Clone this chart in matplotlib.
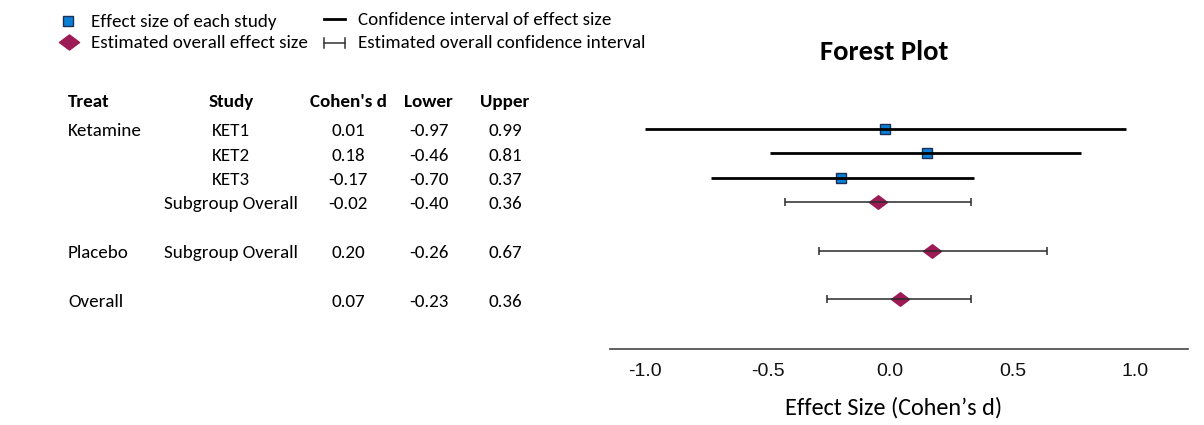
import matplotlib
matplotlib.use("Agg")
import matplotlib.pyplot as plt
from matplotlib import font_manager
from matplotlib.lines import Line2D
from matplotlib.path import Path
import matplotlib.transforms as mtransforms

# ---------------- data ----------------
treat = ["Ketamine", "", "", "", "Placebo", "Overall"]
study = ["KET1", "KET2", "KET3", "Subgroup Overall", "Subgroup Overall", ""]
cohens_d = [0.01, 0.18, -0.17, -0.02, 0.20, 0.07]
lower = [-0.97, -0.46, -0.70, -0.40, -0.26, -0.23]
upper = [0.99, 0.81, 0.37, 0.36, 0.67, 0.36]
is_summary = [False, False, False, True, True, True]
col_headers = ["Treat", "Study", "Cohen's d", "Lower", "Upper"]
x_ticks = [-1.0, -0.5, 0.0, 0.5, 1.0]
x_ticklabels = ["-1.0", "-0.5", "0.0", "0.5", "1.0"]
legend_labels = ["Effect size of each study", "Estimated overall effect size",
                 "Confidence interval of effect size", "Estimated overall confidence interval"]

# ---------------- layout / style ----------------
W, H = 1204, 425
names = {f.name for f in font_manager.fontManager.ttflist}
body = "Carlito" if "Carlito" in names else "Lato"
body_size = 13.7 if body == "Carlito" else 12.6
tick_font = "Liberation Sans" if "Liberation Sans" in names else "DejaVu Sans"

row_pos = [0, 1, 2, 3, 5, 7]
blue = "#0a7fd6"
blue_edge = "#1b2f57"
maroon = "#9c1a55"
diamond = Path([(-1, 0), (0, 0.75), (1, 0), (0, -0.75), (-1, 0)],
               [Path.MOVETO, Path.LINETO, Path.LINETO, Path.LINETO, Path.CLOSEPOLY])

fig = plt.figure(figsize=(W / 100, H / 100), dpi=100)
ax = fig.add_axes([610 / W, 76 / H, 578 / W, 249 / H])
ax.set_xlim(-1.114, 1.245)
ax.set_ylim(9.05, -1.19)

for y, d, lo, hi, summ in zip(row_pos, cohens_d, lower, upper, is_summary):
    if summ:
        ax.plot([d], [y], marker=diamond, markersize=13, color=maroon,
                markeredgecolor=maroon, linestyle="none", zorder=2)
        ax.errorbar([d], [y], xerr=[[d - lo], [hi - d]], fmt="none",
                    ecolor="#2a2a2a", elinewidth=1.1, capsize=3.0, capthick=1.1, zorder=3)
    else:
        ax.plot([d], [y], marker="s", markersize=7.6, color=blue,
                markeredgecolor=blue_edge, markeredgewidth=1.0, linestyle="none", zorder=2)
        ax.plot([lo, hi], [y, y], color="black", linewidth=2.0, zorder=3,
                solid_capstyle="butt")

for s in ["top", "right", "left"]:
    ax.spines[s].set_visible(False)
ax.spines["bottom"].set_color("#444444")
ax.spines["bottom"].set_linewidth(1.2)
ax.set_yticks([])
ax.set_xticks(x_ticks)
ax.set_xticklabels(x_ticklabels, fontsize=14, family=tick_font, color="#111111")
ax.tick_params(axis="x", length=0, pad=10)
offset = mtransforms.ScaledTranslation(7 / 100, 0, fig.dpi_scale_trans)
for lab in ax.get_xticklabels():
    lab.set_transform(lab.get_transform() + offset)

ax.set_title("Forest Plot", x=(884.5 - 610) / 578, y=1.0, pad=29,
             fontsize=body_size * 1.5, family=body, fontweight="bold")
fig.text(894 / W, 1 - 408 / H, "Effect Size (Cohen\u2019s d)", ha="center", va="center",
         fontsize=body_size * 1.27, family=body)

# ---------------- table ----------------
bt = mtransforms.blended_transform_factory(fig.transFigure, ax.transData)
col_x = [68 / W, 231 / W, 348 / W, 428.5 / W, 505 / W]
col_ha = ["left", "center", "center", "center", "center"]
header_y = -1.12
for x, ha, txt in zip(col_x, col_ha, col_headers):
    ax.text(x, header_y, txt, transform=bt, ha=ha, va="center", fontsize=body_size,
            family=body, fontweight="bold", clip_on=False)
text_off = 0.1
for y, t, s, d, lo, hi in zip(row_pos, treat, study, cohens_d, lower, upper):
    vals = [t, s, f"{d:.2f}", f"{lo:.2f}", f"{hi:.2f}"]
    for x, ha, txt in zip(col_x, col_ha, vals):
        if txt:
            ax.text(x, y + text_off, txt, transform=bt, ha=ha, va="center",
                    fontsize=body_size, family=body, clip_on=False)

# ---------------- legend ----------------
def fx(px):
    return px / W

def fy(py):
    return 1 - py / H

fig.add_artist(Line2D([fx(68)], [fy(21)], marker="s", markersize=7.0, color=blue,
                      markeredgecolor=blue_edge, markeredgewidth=1.0, linestyle="none"))
fig.add_artist(Line2D([fx(69)], [fy(42)], marker=diamond, markersize=14.5, color=maroon,
                      markeredgecolor=maroon, linestyle="none"))
fig.add_artist(Line2D([fx(324), fx(345)], [fy(19), fy(19)], color="black", linewidth=2.0))
fig.add_artist(Line2D([fx(324), fx(345)], [fy(43), fy(43)], color="#333333", linewidth=1.1))
fig.add_artist(Line2D([fx(324), fx(324)], [fy(38), fy(48)], color="#333333", linewidth=1.1))
fig.add_artist(Line2D([fx(345), fx(345)], [fy(38), fy(48)], color="#333333", linewidth=1.1))
for (px, py), txt in zip([(91, 21.5), (91, 42.5), (358, 20), (358, 43)], legend_labels):
    fig.text(fx(px), fy(py), txt, ha="left", va="center", fontsize=body_size, family=body)

fig.savefig("out.png", dpi=100)
